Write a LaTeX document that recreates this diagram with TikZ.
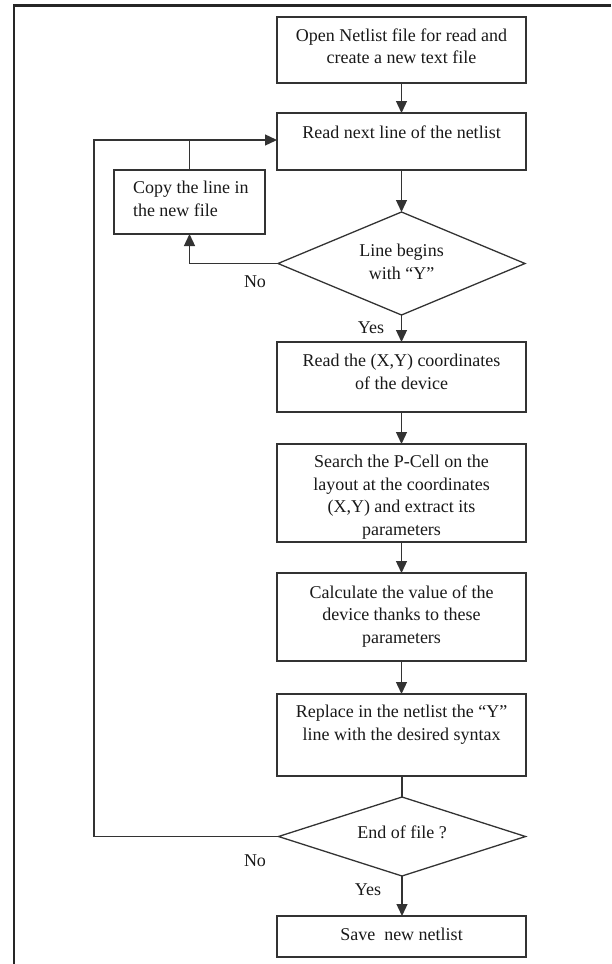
\documentclass[tikz,border=0pt]{standalone}
\usepackage{fontspec}
\setmainfont{Liberation Serif}
\usetikzlibrary{shapes.geometric,arrows.meta}
\begin{document}
\begin{tikzpicture}[x=1pt,y=-1pt,
  every node/.style={inner sep=0pt,outer sep=0pt},
  stepbox/.style={draw=black!80,line width=1.3pt,rectangle,minimum width=249pt},
  decbox/.style={draw=black!80,line width=1.3pt,diamond,minimum width=247pt},
  txt/.style={font=\fontsize{18}{22.5}\selectfont,align=center,anchor=north,text=black!90},
  lbl/.style={font=\fontsize{18}{22}\selectfont,text=black!90},
  conn/.style={draw=black!80,line width=1.3pt},
  arr/.style={conn,-{Triangle[length=12pt,width=11pt]}},
  frame/.style={draw=black!85,line width=2.4pt}
]
\useasboundingbox (0,0) rectangle (611,964);
\draw[frame] (611,5.3) -- (13.7,5.3) -- (13.7,964);

% boxes
\node[stepbox,minimum height=66pt] (open) at (401.5,50) {};
\node[stepbox,minimum height=57pt] (read) at (401.5,141.5) {};
\node[stepbox,minimum width=151pt,minimum height=64pt] (copy) at (189.5,202) {};
\node[decbox,minimum height=103pt] (d1) at (401.5,263.5) {};
\node[stepbox,minimum height=70pt] (rxy) at (401.5,377) {};
\node[stepbox,minimum height=98pt] (search) at (401.5,493) {};
\node[stepbox,minimum height=88pt] (calc) at (401.5,617) {};
\node[stepbox,minimum height=82pt] (repl) at (401.5,735) {};
\node[decbox,minimum height=79pt] (d2) at (402,836.5) {};
\node[stepbox,minimum height=41pt] (save) at (401.5,936.5) {};

% texts
\node[txt] (topen) at (401.5,28.5) {Open Netlist file for read and\\create a new text file};
\node[txt] (tread) at (401.5,125.5) {Read next line of the netlist};
\node[txt,align=left,anchor=north west] (tcopy) at (133,181.5) {Copy the line in\\the new file};
\node[txt] (td1) at (401.5,244.5) {Line begins\\with “Y”};
\node[txt] (trxy) at (401.5,354.5) {Read the (X,Y) coordinates\\of the device};
\node[txt] (tsearch) at (401.5,455.5) {Search the P-Cell on the\\layout at the coordinates\\(X,Y) and extract its\\parameters};
\node[txt] (tcalc) at (401.5,585.5) {Calculate the value of the\\device thanks to these\\parameters};
\node[txt] (trepl) at (401.5,705.5) {Replace in the netlist the “Y”\\line with the desired syntax};
\node[txt] (td2) at (402,825.5) {End of file ?};
\node[txt] (tsave) at (401.5,927.5) {Save\ \ new netlist};

\node[lbl] (no1) at (255,282) {No};
\node[lbl] (yes1) at (371,328) {Yes};
\node[lbl] (no2) at (255,861) {No};
\node[lbl] (yes2) at (368,890) {Yes};

% connectors
\coordinate (lt) at (94,140);
\coordinate (lb) at (94,836.5);
\draw[arr] (open.south) -- (read.north);
\draw[arr] (read.south) -- (d1.north);
\draw[arr] (d1.west) -- (copy.south |- d1.west) -- (copy.south);
\draw[conn] (copy.north) -- (copy.north |- lt);
\draw[arr] (d1.south) -- (rxy.north);
\draw[arr] (rxy.south) -- (search.north);
\draw[arr] (search.south) -- (calc.north);
\draw[arr] (calc.south) -- (repl.north);
\draw[conn] (repl.south -| d2.north) -- (d2.north);
\draw[arr] (d2.south) -- (d2.south |- save.north);
\draw[arr] (d2.west) -- (lb) -- (lt) -- (lt -| read.west);
\end{tikzpicture}
\end{document}
